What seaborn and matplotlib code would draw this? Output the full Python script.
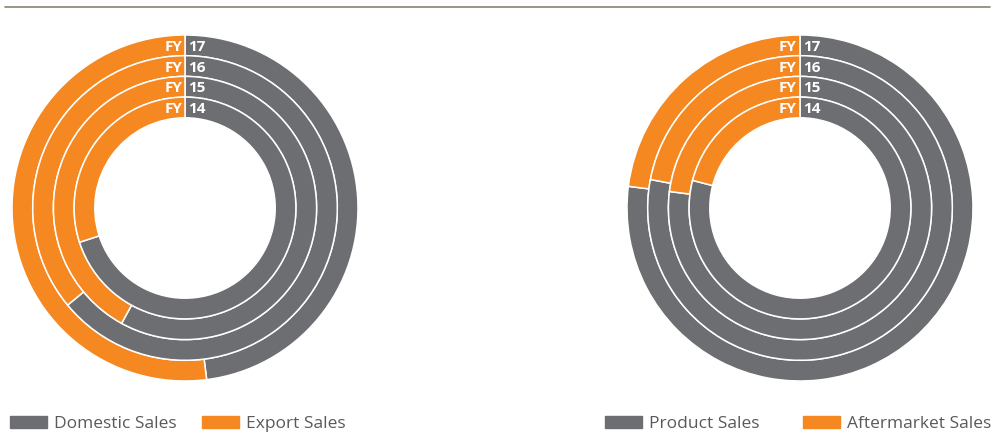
import matplotlib.pyplot as plt
import matplotlib.patches as mpatches
import seaborn as sns

years = ["14", "15", "16", "17"]
domestic = [70, 58, 64, 48]
export = [30, 42, 36, 52]
product = [79, 77, 78, 77]
aftermarket = [21, 23, 22, 23]

GRAY = "#6d6e71"
ORANGE = "#f58820"

sns.set_theme(style="white")
plt.rcParams["font.family"] = ["Open Sans", "DejaVu Sans"]

W, H = 995, 437
fig = plt.figure(figsize=(W / 100, H / 100), dpi=100)

outer_r = 173
ring_w = 20.7
half = 182


def donut(cx, cy, first, second):
    ax = fig.add_axes([(cx - half) / W, (H - cy - half) / H, 2 * half / W, 2 * half / H])
    # outermost ring is the latest year
    for i, yr in enumerate(reversed(years)):
        k = len(years) - 1 - i
        r = outer_r - i * ring_w
        ax.pie([first[k], second[k]], radius=r, startangle=90, counterclock=False,
               colors=[GRAY, ORANGE],
               wedgeprops=dict(width=ring_w, edgecolor="white", linewidth=1.1))
        ym = r - ring_w / 2
        ax.text(-3, ym, "FY", ha="right", va="center_baseline", color="white",
                fontsize=11, fontweight="bold")
        ax.text(3, ym, yr, ha="left", va="center_baseline", color="white",
                fontsize=11, fontweight="bold")
    ax.set_xlim(-half, half)
    ax.set_ylim(-half, half)
    ax.set_aspect("equal")
    ax.axis("off")
    return ax


donut(185, 208, domestic, export)
donut(800, 208, product, aftermarket)

# top rule
fig.add_artist(plt.Line2D([5 / W, 990 / W], [1 - 7 / H, 1 - 7 / H],
                          transform=fig.transFigure, color="#8a8275", linewidth=1.2))

legend_kw = dict(loc="center left", frameon=False, fontsize=12.5,
                 handlelength=2.15, handleheight=0.68, handletextpad=0.4,
                 borderpad=0, borderaxespad=0, labelcolor="#58595b")
entries = [("Domestic Sales", GRAY, 10), ("Export Sales", ORANGE, 202),
           ("Product Sales", GRAY, 605), ("Aftermarket Sales", ORANGE, 803)]
for label, color, x0 in entries:
    fig.legend(handles=[mpatches.Patch(color=color, label=label)],
               bbox_to_anchor=(x0 / W, 1 - 424 / H), **legend_kw)

fig.savefig("out.png", dpi=100)
